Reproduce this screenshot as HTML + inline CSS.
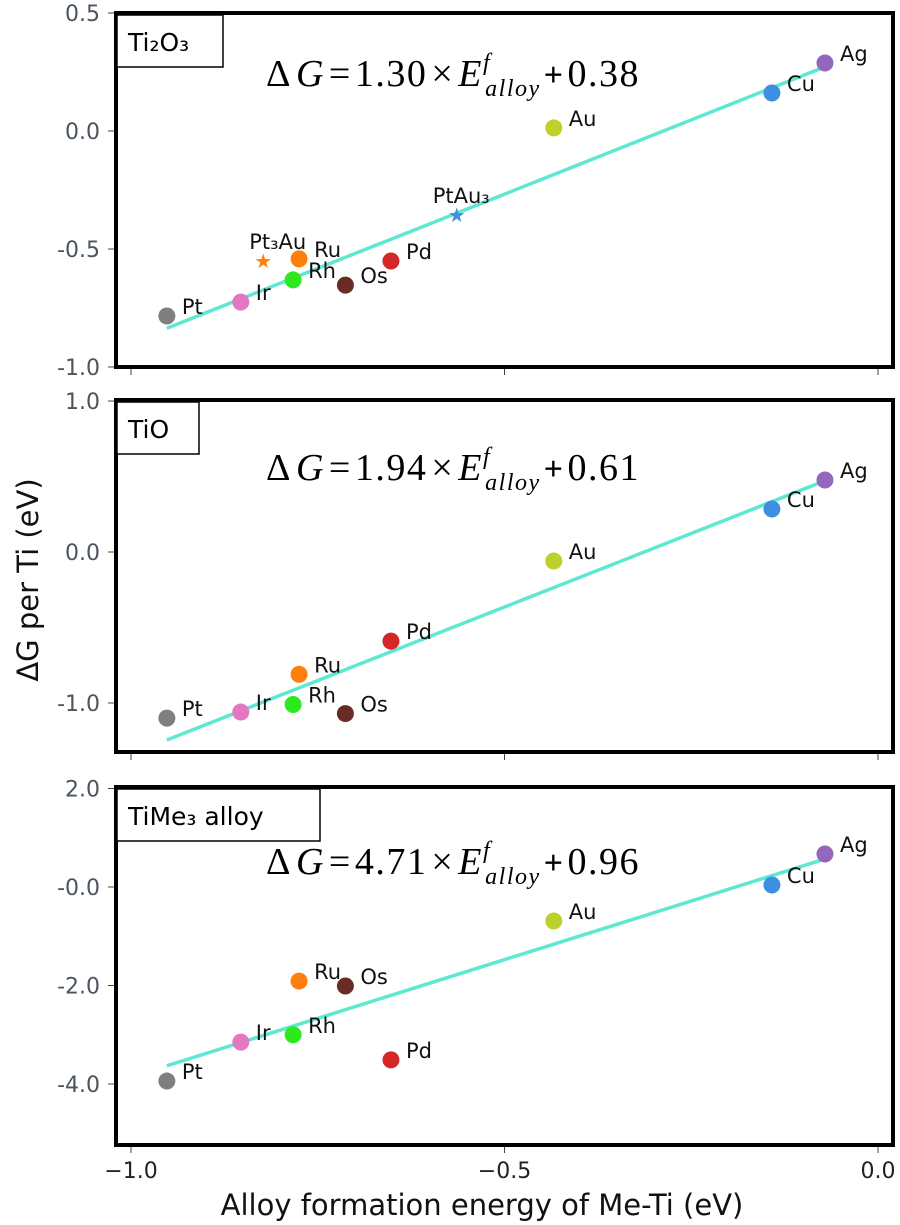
<!DOCTYPE html>
<html><head><meta charset="utf-8"><style>
body{margin:0;background:#fff;width:900px;height:1225px;overflow:hidden}
svg{display:block}
text{font-family:"DejaVu Sans","Liberation Sans",sans-serif}
text.eq{font-family:"Liberation Serif","DejaVu Serif",serif;letter-spacing:1.5px}
</style></head><body>
<svg id="chart" width="900" height="1225" xmlns="http://www.w3.org/2000/svg"></svg>
<script>
const elements = ["Pt","Ir","Rh","Ru","Os","Pd","Au","Cu","Ag"];
const colors = ["#7f7f7f","#e377c2","#2ee81e","#ff7f0e","#6b2b25","#d62728","#bcd22a","#3f8fe0","#9467bd"];
const alloyEnergy = [-0.952,-0.853,-0.783,-0.775,-0.713,-0.652,-0.434,-0.142,-0.071];
const dgTi2O3 = [-0.784,-0.725,-0.631,-0.542,-0.653,-0.551,0.013,0.161,0.288];
const dgTiO = [-1.10,-1.06,-1.01,-0.81,-1.07,-0.59,-0.06,0.285,0.477];
const dgTiMe3 = [-3.94,-3.15,-3.0,-1.91,-2.01,-3.51,-0.69,0.04,0.67];
const starNames = ["Pt₃Au","PtAu₃"];
const starColors = ["#ff7f0e","#3f8fe0"];
const starX = [-0.823,-0.564];
const starY = [-0.551,-0.356];
const fitX = [-0.952,-0.075];
const fitTi2O3 = [-0.836,0.267];
const fitTiO = [-1.245,0.464];
const fitTiMe3 = [-3.63,0.55];
const xTicks = [-1.0,-0.5,0.0];
const xTickLabels = ["−1.0","−0.5","0.0"];
const yTicksTi2O3 = [0.5,0.0,-0.5,-1.0];
const yLabelsTi2O3 = ["0.5","0.0","-0.5","-1.0"];
const yTicksTiO = [1.0,0.0,-1.0];
const yLabelsTiO = ["1.0","0.0","-1.0"];
const yTicksTiMe3 = [2.0,0.0,-2.0,-4.0];
const yLabelsTiMe3 = ["2.0","-0.0","-2.0","-4.0"];

const svg = document.getElementById('chart');
const NS = "http://www.w3.org/2000/svg";
function mk(tag, attrs, parent){const e=document.createElementNS(NS,tag);for(const k in attrs)e.setAttribute(k,attrs[k]);(parent||svg).appendChild(e);return e;}
const X = v => 878 + 747*v;

const panels = [
 {name:"ti2o3", top:13, bottom:367, y0:131, k:236, vals:dgTi2O3, fit:fitTi2O3, ticks:yTicksTi2O3, labels:yLabelsTi2O3, legend:"Ti₂O₃", lw:106, eq:["1.30","0.38"], eqY:86, stars:true},
 {name:"tio", top:400, bottom:752, y0:552, k:151, vals:dgTiO, fit:fitTiO, ticks:yTicksTiO, labels:yLabelsTiO, legend:"TiO", lw:82, eq:["1.94","0.61"], eqY:480, stars:false},
 {name:"time3", top:787, bottom:1145, y0:887, k:49.25, vals:dgTiMe3, fit:fitTiMe3, ticks:yTicksTiMe3, labels:yLabelsTiMe3, legend:"TiMe₃ alloy", lw:203, eq:["4.71","0.96"], eqY:874, stars:false}
];

panels.forEach(p=>{
  const g = mk('g',{});
  
  
  const Y = v => p.y0 - p.k*v;
  p.ticks.forEach((t,i)=>{
    const tk = mk('line',{x1:108,x2:114,y1:Y(t),y2:Y(t),stroke:'#444','stroke-width':1},g);
    
    
    const tl = mk('text',{x:100,y:Y(t)+8,'text-anchor':'end','font-size':22,fill:'#4a5560'},g);
    tl.textContent = p.labels[i];
    
    
  });
  xTicks.forEach(t=>{
    const xt = mk('line',{x1:X(t),x2:X(t),y1:p.bottom+2,y2:p.bottom+8,stroke:'#444','stroke-width':1},g);
    
    
  });
  const fl = mk('line',{x1:X(fitX[0]),y1:Y(p.fit[0]),x2:X(fitX[1]),y2:Y(p.fit[1]),stroke:'#5ee8d2','stroke-width':3.5},g);
  
  
  elements.forEach((el,i)=>{
    const c = mk('circle',{cx:X(alloyEnergy[i]),cy:Y(p.vals[i]),r:8.5,fill:colors[i]},g);
    
    
    const t = mk('text',{x:X(alloyEnergy[i])+15,y:Y(p.vals[i])-2,'font-size':21,fill:'#111'},g);
    t.textContent = el;
    
    
  });
  if(p.stars){
    starX.forEach((sx,i)=>{
      const s = mk('text',{x:X(sx),y:Y(starY[i])+7,'text-anchor':'middle','font-size':20,fill:starColors[i]},g);
      s.textContent='★';
      
      
      const sl = mk('text',{x:X(sx)-14+(i?-10:0),y:Y(starY[i])-12,'font-size':21,fill:'#111'},g);
      sl.textContent=starNames[i];
      
      
    });
  }
  const fr = mk('rect',{x:116,y:p.top,width:777,height:p.bottom-p.top,fill:'none',stroke:'#000','stroke-width':4},g);
  
  
  const lb = mk('rect',{x:117,y:p.top+2,width:p.lw,height:52,fill:'#fff',stroke:'#000','stroke-width':1.5},g);
  
  
  const lt = mk('text',{x:128,y:p.top+38,'font-size':25,fill:'#000'},g);
  lt.textContent = p.legend;
  
  
  const eq = mk('text',{x:266,y:p.eqY,'font-size':38,fill:'#000','class':'eq'},g);
  
  
  eq.innerHTML = 'Δ<tspan font-style="italic" dx="4">G</tspan><tspan dx="4">=</tspan><tspan dx="3">' + p.eq[0] + '</tspan><tspan dx="4">×</tspan><tspan font-style="italic" dx="4">E</tspan><tspan font-style="italic" font-size="24" dy="-16">f</tspan><tspan font-style="italic" font-size="24" dx="-6" dy="26">alloy</tspan><tspan dy="-10" dx="3" font-weight="bold" font-size="34">+</tspan><tspan dx="3">' + p.eq[1] + '</tspan>';
});

xTicks.forEach((t,i)=>{
  const tl = mk('text',{x:X(t),y:1178,'text-anchor':'middle','font-size':22,fill:'#222'});
  tl.textContent = xTickLabels[i];
  
  
});
const xl = mk('text',{x:482,y:1215,'text-anchor':'middle','font-size':29,fill:'#111'});
xl.textContent = 'Alloy formation energy of Me-Ti (eV)';


const yl = mk('text',{x:0,y:0,'text-anchor':'middle','font-size':29,fill:'#111',transform:'translate(38,580) rotate(-90)'});
yl.textContent = 'ΔG per Ti (eV)';


</script>
</body></html>
